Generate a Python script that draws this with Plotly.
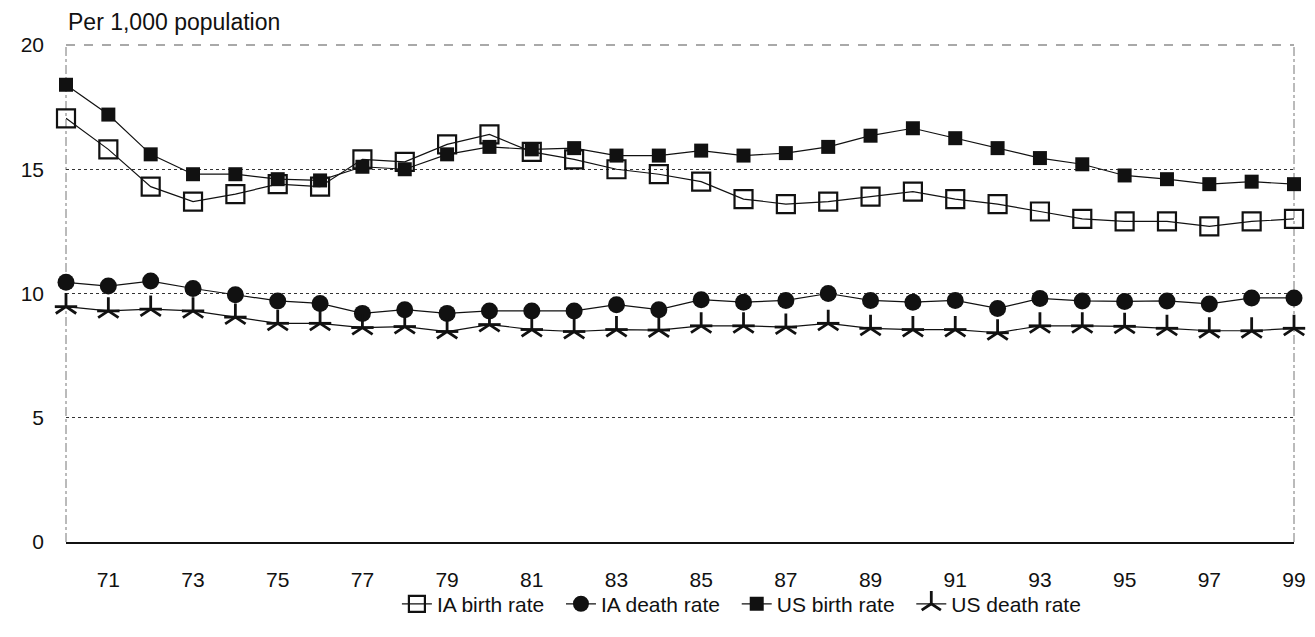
import plotly.graph_objects as go

years = list(range(1970, 2000))
tick_years = list(range(1971, 2000, 2))
tick_labels = [str(y % 100) for y in tick_years]
y_ticks = [0, 5, 10, 15, 20]

ia_birth = [17.05, 15.8, 14.3, 13.7, 14.0, 14.4, 14.3, 15.4, 15.3, 16.0,
            16.4, 15.7, 15.4, 15.0, 14.8, 14.5, 13.8, 13.6, 13.7, 13.9,
            14.1, 13.8, 13.6, 13.3, 13.0, 12.9, 12.9, 12.7, 12.9, 13.0]
ia_death = [10.45, 10.3, 10.5, 10.2, 9.95, 9.7, 9.6, 9.2, 9.35, 9.2,
            9.3, 9.3, 9.3, 9.55, 9.35, 9.75, 9.65, 9.72, 10.0, 9.72,
            9.65, 9.72, 9.4, 9.8, 9.7, 9.68, 9.7, 9.58, 9.82, 9.82]
us_birth = [18.4, 17.2, 15.6, 14.8, 14.8, 14.6, 14.55, 15.1, 15.0, 15.6,
            15.9, 15.8, 15.85, 15.55, 15.55, 15.75, 15.55, 15.65, 15.9, 16.35,
            16.65, 16.25, 15.85, 15.45, 15.2, 14.75, 14.6, 14.4, 14.5, 14.4]
us_death = [9.47, 9.3, 9.37, 9.3, 9.05, 8.8, 8.8, 8.63, 8.67, 8.47,
            8.75, 8.55, 8.47, 8.55, 8.53, 8.7, 8.7, 8.65, 8.8, 8.6,
            8.55, 8.55, 8.42, 8.7, 8.7, 8.68, 8.6, 8.5, 8.5, 8.6]

FONT = "Liberation Sans, Arial, sans-serif"
BLACK = "#111111"

fig = go.Figure()

fig.add_trace(go.Scatter(
    x=years, y=ia_birth, name="IA birth rate  ", mode="lines+markers",
    line=dict(color=BLACK, width=1.2),
    marker=dict(symbol="square-open", size=18, color=BLACK, line=dict(width=2.2, color=BLACK)),
    cliponaxis=False))
fig.add_trace(go.Scatter(
    x=years, y=ia_death, name="IA death rate  ", mode="lines+markers",
    line=dict(color=BLACK, width=1.2),
    marker=dict(symbol="circle", size=17, color=BLACK),
    cliponaxis=False))
fig.add_trace(go.Scatter(
    x=years, y=us_birth, name="US birth rate  ", mode="lines+markers",
    line=dict(color=BLACK, width=1.2),
    marker=dict(symbol="square", size=14, color=BLACK),
    cliponaxis=False))
fig.add_trace(go.Scatter(
    x=years, y=us_death, name="US death rate", mode="lines+markers",
    line=dict(color=BLACK, width=1.2),
    marker=dict(symbol="y-up-open", size=17, color=BLACK, line=dict(width=2.8, color=BLACK)),
    cliponaxis=False))
fig.add_trace(go.Scatter(
    x=years, y=us_death, name="US death rate", mode="markers", showlegend=False,
    marker=dict(symbol="line-ew-open", size=16, color=BLACK, line=dict(width=2.8, color=BLACK)),
    cliponaxis=False))

fig.update_layout(
    width=1315, height=637,
    margin=dict(l=66, r=21, t=45, b=89),
    paper_bgcolor="white", plot_bgcolor="white",
    font=dict(family=FONT, size=21, color=BLACK),
    showlegend=True,
    legend=dict(orientation="h", x=0.55, xanchor="center", y=-0.125, yanchor="middle",
                font=dict(size=21), itemwidth=30, tracegroupgap=0,
                bgcolor="rgba(0,0,0,0)"),
    xaxis=dict(range=[1970, 1999], tickvals=tick_years, ticktext=tick_labels,
               showgrid=False, zeroline=False, showline=True, linecolor=BLACK, linewidth=1.5,
               ticks="", ticklabelstandoff=18, tickfont=dict(size=21), automargin=False),
    yaxis=dict(range=[0, 20], tickvals=y_ticks, showgrid=True, gridcolor="#333333",
               griddash="dot", gridwidth=1, zeroline=False, showline=False,
               ticks="", ticklabelstandoff=21, tickfont=dict(size=21), automargin=False),
    annotations=[dict(text="Per 1,000 population", xref="paper", yref="paper",
                      x=0, y=1.046, xanchor="left", yanchor="middle", showarrow=False,
                      font=dict(size=23, family=FONT, color=BLACK))],
    shapes=[
        dict(type="line", xref="paper", yref="paper", x0=0, x1=0, y0=0, y1=1,
             line=dict(color="#777777", width=1, dash="dashdot"), layer="below"),
        dict(type="line", xref="paper", yref="paper", x0=1, x1=1, y0=0, y1=1,
             line=dict(color="#777777", width=1, dash="dashdot"), layer="below"),
        dict(type="line", xref="paper", yref="paper", x0=0, x1=1, y0=1, y1=1,
             line=dict(color="#555555", width=1.2, dash="dash"), layer="below"),
    ],
)

fig.write_html("out.html", config={"displayModeBar": False},
               post_script="document.body.style.margin='0';")
